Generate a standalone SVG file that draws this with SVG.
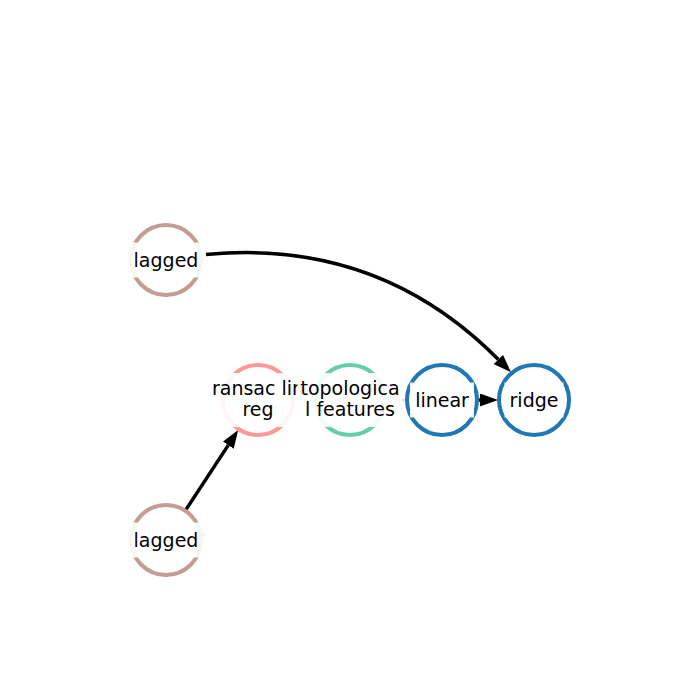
<svg xmlns="http://www.w3.org/2000/svg" width="700" height="700" viewBox="0 0 700 700">
<style>
.node{fill:#ffffff;stroke-width:4}
.edge{fill:none;stroke:#000000;stroke-width:3.5}
.lbl{font-family:"DejaVu Sans",sans-serif;font-size:19px;text-anchor:middle;fill:#000000}
.box{fill:#ffffff;fill-opacity:0.9}
</style>
<defs>
<marker id="ah" markerUnits="userSpaceOnUse" markerWidth="18" markerHeight="13" viewBox="0 0 18 13" refX="0" refY="6.5" orient="auto"><path d="M0,0 L18,6.5 L0,13 z" fill="#000000"/></marker>
<marker id="ahg" markerUnits="userSpaceOnUse" markerWidth="18" markerHeight="13" viewBox="0 0 18 13" refX="0" refY="6.5" orient="auto"><path d="M0,0 L18,6.5 L0,13 z" fill="#d9d9d9"/></marker>
</defs>
<rect width="700" height="700" fill="#ffffff"/>
<g id="edges">
<path class="edge" d="M206,254.5 Q378.4,238.3 498.4,359.5" marker-end="url(#ah)"/>
<path class="edge" d="M185.8,509.9 L228.3,445.1" marker-end="url(#ah)"/>
<path class="edge" d="M386,400 L388,400" style="stroke:#d9d9d9" marker-end="url(#ahg)"/>
<path class="edge" d="M478,400 L480,400" marker-end="url(#ah)"/>
</g>
<g id="node-lagged1"><circle class="node" cx="166" cy="260" r="35" stroke="#c49c94"/></g>
<g id="node-lagged2"><circle class="node" cx="166" cy="540" r="35" stroke="#c49c94"/></g>
<g id="node-ransac"><circle class="node" cx="258" cy="400" r="35" stroke="#ff9896"/></g>
<g id="node-topological"><circle class="node" cx="350" cy="400" r="35" stroke="#66cdaa"/></g>
<g id="node-linear"><circle class="node" cx="442" cy="400" r="35" stroke="#1f77b4"/></g>
<g id="node-ridge"><circle class="node" cx="534" cy="400" r="35" stroke="#1f77b4"/></g>
<g id="labels">
<g id="label-lagged1"><rect class="box" x="128" y="242.5" width="76" height="35"/><text class="lbl" x="166" y="266.5">lagged</text></g>
<g id="label-lagged2"><rect class="box" x="128" y="522.5" width="76" height="35"/><text class="lbl" x="166" y="546.5">lagged</text></g>
<g id="label-ransac"><rect class="box" x="207" y="373" width="102" height="54"/><text class="lbl" x="258" y="395">ransac lin</text><text class="lbl" x="258" y="416">reg</text></g>
<g id="label-topological"><rect class="box" x="297.5" y="373" width="105" height="54"/><text class="lbl" x="350" y="395">topologica</text><text class="lbl" x="350" y="416">l features</text></g>
<g id="label-linear"><rect class="box" x="410" y="382.5" width="64" height="35"/><text class="lbl" x="442" y="406.5">linear</text></g>
<g id="label-ridge"><rect class="box" x="504.5" y="382.5" width="59" height="35"/><text class="lbl" x="534" y="406.5">ridge</text></g>
</g>
</svg>
